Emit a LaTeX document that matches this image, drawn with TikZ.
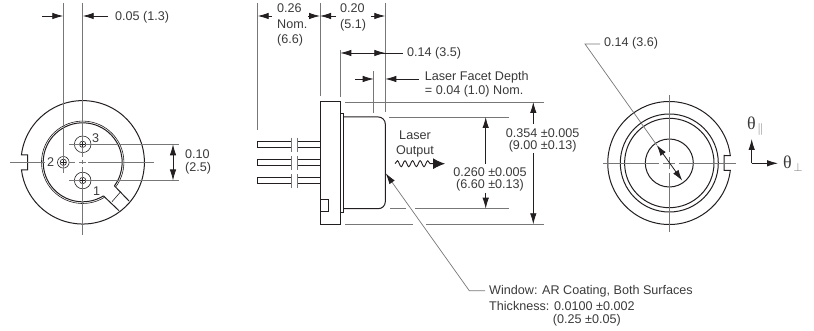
\documentclass[tikz,border=0pt]{standalone}
\usepackage{fontspec}
\setmainfont{Liberation Sans}
\newfontfamily\thetafont{Liberation Serif}
\usetikzlibrary{arrows.meta, calc, decorations.pathmorphing}
\definecolor{inkcol}{HTML}{231F20}
\definecolor{textcol}{HTML}{3A3A3A}
\definecolor{extcol}{HTML}{777777}
\tikzset{
    outline/.style={draw=inkcol, line width=1pt},
    thinline/.style={draw=inkcol, line width=0.6pt},
    extline/.style={draw=extcol, line width=0.7pt},
    dimarrow/.style={draw=inkcol, line width=0.8pt, -{Latex[length=11pt,width=6.5pt]}},
    dimboth/.style={draw=inkcol, line width=0.8pt, {Latex[length=11pt,width=6.5pt]}-{Latex[length=11pt,width=6.5pt]}},
    lbl/.style={text=textcol, font=\fontsize{12.6}{14}\selectfont, inner sep=0pt},
    lblw/.style={lbl, anchor=west},
    lblc/.style={lbl, align=center},
}
\begin{document}
\begin{tikzpicture}[x=1pt, y=-1pt]
        \useasboundingbox (0,0) rectangle (814,331);

        % pin side view
        \coordinate (lc) at (82.7,162.3);
        \coordinate (pinC) at (82.7,144.3);
        \coordinate (pinA) at (82.7,180.5);
        \coordinate (pinB) at (63.3,162.3);
        \draw[outline] (21.46,154.8) arc (187:533:61.7) -- (27.5,169.8) -- (27.5,154.8) -- cycle;
        \draw[thinline, shift={(lc)}] (58.3:41.2) arc (58.3:396.6:41.2);
        \draw[outline, shift={(lc)}] (58.3:39.5) coordinate (tabA) arc (58.3:396.6:39.5) coordinate (tabB);
        \coordinate (tabC) at (119,210.7);
        \coordinate (tabD) at (129,201);
        \coordinate (tabE) at (112,201.7);
        \coordinate (tabF) at (120.7,191.7);
        \draw[outline] (tabA) -- (tabC);
        \draw[outline] (tabB) -- (tabD);
        \draw[thinline] (tabE) -- (tabF);
        \foreach \p in {pinC, pinA} {
            \draw[thinline] (\p) circle (8.3);
            \draw[thinline] (\p) circle (3.2);
        }
        \draw[thinline] (pinB) circle (5.8);
        \draw[thinline] (pinB) circle (3.2);
        \draw[extline] (63.3,3) -- (63.3,173);
        \draw[extline] (82.7,3) -- (82.7,157);
        \draw[extline] (82.7,160) -- (82.7,164.5);
        \draw[extline] (82.7,167.5) -- (82.7,235);
        \draw[extline] (10,162.3) -- (45,162.3);
        \draw[extline] (69,162.3) -- (75,162.3);
        \draw[extline] (79.3,162.3) -- (85.7,162.3);
        \draw[extline] (88.3,162.3) -- (154,162.3);
        \draw[extline] (69,144.3) -- (179,144.3);
        \draw[extline] (69,180.5) -- (179,180.5);
        \foreach \p in {pinC, pinA, pinB} {
            \draw[thinline] ($(\p)+(-2.5,0)$) -- ($(\p)+(2.5,0)$);
            \draw[thinline] ($(\p)+(0,-2.5)$) -- ($(\p)+(0,2.5)$);
        }
        \node[lbl] (numC) at (95.7,137.7) {3};
        \node[lbl] (numB) at (50.7,162.5) {2};
        \node[lbl] (numA) at (96.7,190.7) {1};
        \coordinate (pitchT) at (173,144.3);
        \coordinate (pitchB) at (173,180.5);
        \draw[dimboth] (pitchT) -- (pitchB);
        \node[lblw] (pitchTxt) at (185,154) {0.10};
        \node[lblw] (pitchMm) at (185,168) {(2.5)};
        \coordinate (offL) at (63.3,16);
        \coordinate (offR) at (82.7,16);
        \coordinate (offLt) at (42,16);
        \coordinate (offRt) at (108,16);
        \draw[dimarrow] (offLt) -- (offL);
        \draw[dimarrow] (offRt) -- (offR);
        \node[lblw] (offTxt) at (115,17) {0.05 (1.3)};

        % package side view
        \draw[outline] (320,102) rectangle (340.3,224.3);
        \draw[outline] (340.3,113.3) rectangle (343,212.3);
        \draw[outline] (343,117) -- (378.3,117) arc (270:360:7) -- (385.3,201.7) arc (0:90:7) -- (343,208.7);
        \draw[outline] (320.7,199.3) rectangle (328.7,211.3);
        \foreach \y in {144.7, 163, 181} {
            \draw[outline] (320,\y-3) -- (297.3,\y-3);
            \draw[outline] (320,\y+3) -- (297.3,\y+3);
            \draw[outline] (291.7,\y-3) -- (257.7,\y-3) -- (257.7,\y+3) -- (291.7,\y+3);
            \draw[extline] (291.7,\y-7) -- (291.7,\y+7);
            \draw[extline] (297.3,\y-7) -- (297.3,\y+7);
        }
        \draw[extline] (257.7,3) -- (257.7,130);
        \draw[extline] (320,3) -- (320,96);
        \draw[extline] (340.3,50) -- (340.3,97);
        \draw[extline] (373.7,71) -- (373.7,113);
        \draw[extline] (385.3,3) -- (385.3,112);
        \draw[extline] (345,102) -- (544,102);
        \draw[extline] (389,117) -- (509,117);
        \draw[extline] (390,208.7) -- (406,208.7);
        \draw[extline] (415.3,208.7) -- (509,208.7);
        \draw[extline] (345,224.3) -- (413,224.3);
        \draw[extline] (426,224.3) -- (544,224.3);

        \draw[dimarrow] (272,16) -- (257.7,16);
        \draw[dimarrow] (308,16) -- (320,16);
        \draw[dimarrow] (336,16) -- (320,16);
        \draw[dimarrow] (371,16) -- (385.3,16);
        \node[lblw] (lenTxt) at (277,8.5) {0.26};
        \node[lblw] (lenNom) at (277,24) {Nom.};
        \node[lblw] (lenMm) at (277,40) {(6.6)};
        \node[lblw] (capTxt) at (340,8.5) {0.20};
        \node[lblw] (capMm) at (340,25) {(5.1)};
        \coordinate (winL) at (340.3,53);
        \coordinate (winR) at (385.3,53);
        \draw[dimarrow] (402.7,53) -- (winL);
        \draw[dimarrow] (360,53) -- (winR);
        \node[lblw] (winTxt) at (407,53) {0.14 (3.5)};
        \draw[dimarrow] (355,79) -- (373.7,79);
        \draw[dimarrow] (418.7,79) -- (385.3,79);
        \node[lblw] (facetTxt) at (424.7,77) {Laser Facet Depth};
        \node[lblw] (facetVal) at (424.7,91) {= 0.04 (1.0) Nom.};

        \node[lblc] (laserTxt) at (415,135) {Laser};
        \node[lblc] (outTxt) at (415,151) {Output};
        \coordinate (waveA) at (395,163.7);
        \coordinate (waveB) at (433,163.7);
        \coordinate (waveC) at (445,163.7);
        \draw[inkcol, line width=0.9pt, decorate, decoration={snake, segment length=7.6pt, amplitude=3pt}] (waveA) -- (waveB);
        \draw[inkcol, line width=0.9pt, -{Latex[length=12pt,width=11pt]}] (waveB) -- (waveC);

        \draw[dimarrow] (485.7,164) -- (485.7,117);
        \draw[dimarrow] (485.7,193) -- (485.7,208.7);
        \node[lblc] (innerTxt) at (490,171.7) {0.260 ±0.005};
        \node[lblc] (innerMm) at (490,185.7) {(6.60 ±0.13)};
        \draw[dimarrow] (533.3,124) -- (533.3,102);
        \draw[dimarrow] (533.3,153) -- (533.3,224.3);
        \node[lblc] (outerTxt) at (542.7,132.7) {0.354 ±0.005};
        \node[lblc] (outerMm) at (542.7,146.7) {(9.00 ±0.13)};

        \coordinate (winTip) at (385.7,173.3);
        \coordinate (winKnee) at (469.3,290.7);
        \coordinate (winEnd) at (485,290.7);
        \draw[extline, {Latex[length=11pt,width=6.5pt,inkcol]}-] (winTip) -- (winKnee) -- (winEnd);
        \node[lblw] (coatTxt) at (489,291.5) {Window: AR Coating, Both Surfaces};
        \node[lblw] (thickTxt) at (489,306) {Thickness: 0.0100 ±0.002};
        \node[lblw] (thickMm) at (552.7,320) {(0.25 ±0.05)};

        % window end view
        \coordinate (rc) at (669.3,163);
        \draw[outline] (730.3,170.5) arc (7:353:61.5) -- (724,155.5) -- (724,170.5) -- cycle;
        \draw[outline] (rc) circle (49);
        \draw[outline] (rc) circle (44.7);
        \draw[outline] (rc) circle (24);
        \draw[extline] (669.3,95) -- (669.3,152);
        \draw[extline] (669.3,157) -- (669.3,169);
        \draw[extline] (669.3,173) -- (669.3,232);
        \draw[extline] (603,163) -- (659,163);
        \draw[extline] (663,163) -- (675,163);
        \draw[extline] (679,163) -- (736,163);
        \coordinate (apA) at (656.7,145);
        \coordinate (apB) at (682.3,180.7);
        \coordinate (apKnee) at (585,44);
        \coordinate (apEnd) at (600,44);
        \draw[extline] (apEnd) -- (apKnee) -- (apA);
        \draw[dimboth] (apA) -- (apB);
        \node[lblw] (apTxt) at (604,43.5) {0.14 (3.6)};

        \coordinate (axO) at (751.7,163.3);
        \coordinate (axU) at (751.7,139);
        \coordinate (axR) at (778,163.3);
        \draw[dimarrow] (axO) -- (axU);
        \draw[dimarrow] (axO) -- (axR);
        \node[lblw, font=\fontsize{18}{18}\selectfont] (thetaU) at (747,126) {\thetafont θ\hspace{1.5pt}\raisebox{-3pt}{\fontsize{13}{13}\selectfont\textcolor{extcol}{$\parallel$}}};
        \node[lblw, font=\fontsize{18}{18}\selectfont] (thetaR) at (783,164) {\thetafont θ\hspace{1.5pt}\raisebox{-3pt}{\fontsize{13}{13}\selectfont\textcolor{extcol}{$\perp$}}};
        \end{tikzpicture}
\end{document}
